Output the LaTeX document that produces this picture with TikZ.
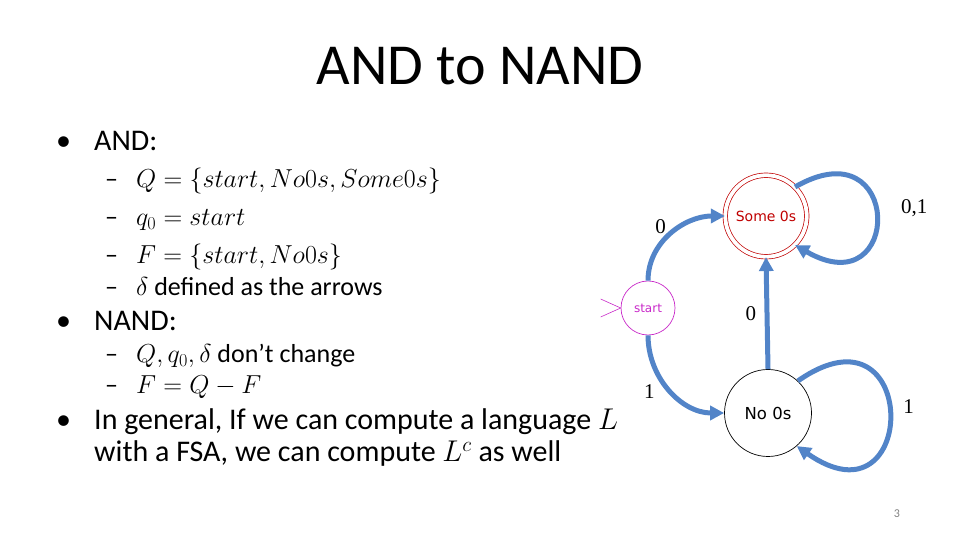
\RequirePackage{fix-cm}
\documentclass[tikz,border=0pt]{standalone}
\usepackage{fontspec}
\setmainfont{Carlito}
\newfontfamily\statefont{DejaVu Sans}
\newfontfamily\lblfont{Liberation Serif}
\usetikzlibrary{arrows.meta}

\definecolor{trblue}{RGB}{82,132,200}
\definecolor{stmag}{RGB}{200,40,200}
\definecolor{accred}{RGB}{192,0,0}

\begin{document}
\begin{tikzpicture}[x=1pt,y=1pt,
  hd/.style={anchor=base,inner sep=0pt,font=\fontsize{58}{60}\selectfont},
  bul/.style={anchor=base west,inner sep=0pt,font=\fontsize{30}{32}\selectfont},
  sub/.style={anchor=base west,inner sep=0pt,font=\fontsize{26}{28}\selectfont},
  st/.style={circle,draw=black,fill=white,line width=0.7pt,minimum size=87pt,inner sep=0pt,font=\statefont\fontsize{16.5}{18}\selectfont},
  acc/.style={circle,draw=accred,fill=white,line width=0.7pt,double,double distance=3.8pt,minimum size=81.5pt,inner sep=0pt,text=accred,font=\statefont\fontsize{14}{16}\selectfont},
  init/.style={circle,draw=stmag,line width=0.7pt,minimum size=54pt,inner sep=0pt,text=stmag,font=\statefont\fontsize{12}{14}\selectfont},
  initmk/.style={draw=stmag,line width=0.6pt},
  trans/.style={-{Triangle[length=14pt,width=14pt]},line width=5pt,draw=trblue},
  lbl/.style={font=\lblfont\fontsize{21}{22}\selectfont},
  pgnum/.style={text=gray,font=\fontsize{12}{14}\selectfont}
]
  \useasboundingbox (0,0) rectangle (960,540);

  \node[hd] (title) at (480,455) {AND to NAND};

  \node[bul] (b1)   at (56,389)  {\textbullet};
  \node[bul] (and)  at (94,389)  {AND:};
  \node[sub] (d1)   at (105,352) {--};
  \node[sub] (qset) at (136,352) {$Q=\{start,No0s,Some0s\}$};
  \node[sub] (d2)   at (105,314) {--};
  \node[sub] (qz)   at (136,314) {$q_0=start$};
  \node[sub] (d3)   at (105,276) {--};
  \node[sub] (fset) at (136,276) {$F=\{start,No0s\}$};
  \node[sub] (d4)   at (105,244) {--};
  \node[sub] (delta) at (136,244) {$\delta$ defined as the arrows};
  \node[bul] (b2)   at (56,209)  {\textbullet};
  \node[bul] (nand) at (94,209)  {NAND:};
  \node[sub] (d5)   at (105,177) {--};
  \node[sub] (same) at (136,177) {$Q,q_0,\delta$ don’t change};
  \node[sub] (d6)   at (105,146) {--};
  \node[sub] (fnew) at (136,146) {$F=Q-F$};
  \node[bul] (b3)   at (56,110)  {\textbullet};
  \node[bul] (gen1) at (94,110)  {In general, If we can compute a language $L$};
  \node[bul] (gen2) at (94,78)   {with a FSA, we can compute $L^c$ as well};

  % automaton
  \node[init] (start) at (648,232) {start};
  \node[acc]  (some)  at (766,324) {Some 0s};
  \node[st]   (no)    at (768,127) {No 0s};

  \draw[initmk] ([shift={(-20,9)}]start.west) -- (start.west) -- ([shift={(-20,-9)}]start.west);

  \draw[trans] (start.north) to[out=90,in=180] node[lbl,pos=0.4,above left=1pt,xshift=9pt] {0} (some.west);
  \draw[trans] (start.south) to[out=-90,in=180] node[lbl,pos=0.4,below left=1pt,xshift=-1pt,yshift=3pt] {1} (no.west);
  \draw[trans] (no.north) -- node[lbl,left=5pt] {0} (some.south);
  \draw[trans] (some.45) .. controls +(30:125) and +(-30:125) .. node[lbl,right=19pt,yshift=8pt] {0,1} (some.-45);
  \draw[trans] (no.47) .. controls +(35:150) and +(-35:150) .. node[lbl,right=8pt,yshift=7pt] {1} (no.-49);

  \node[pgnum] (pg) at (897,26) {3};
\end{tikzpicture}
\end{document}
